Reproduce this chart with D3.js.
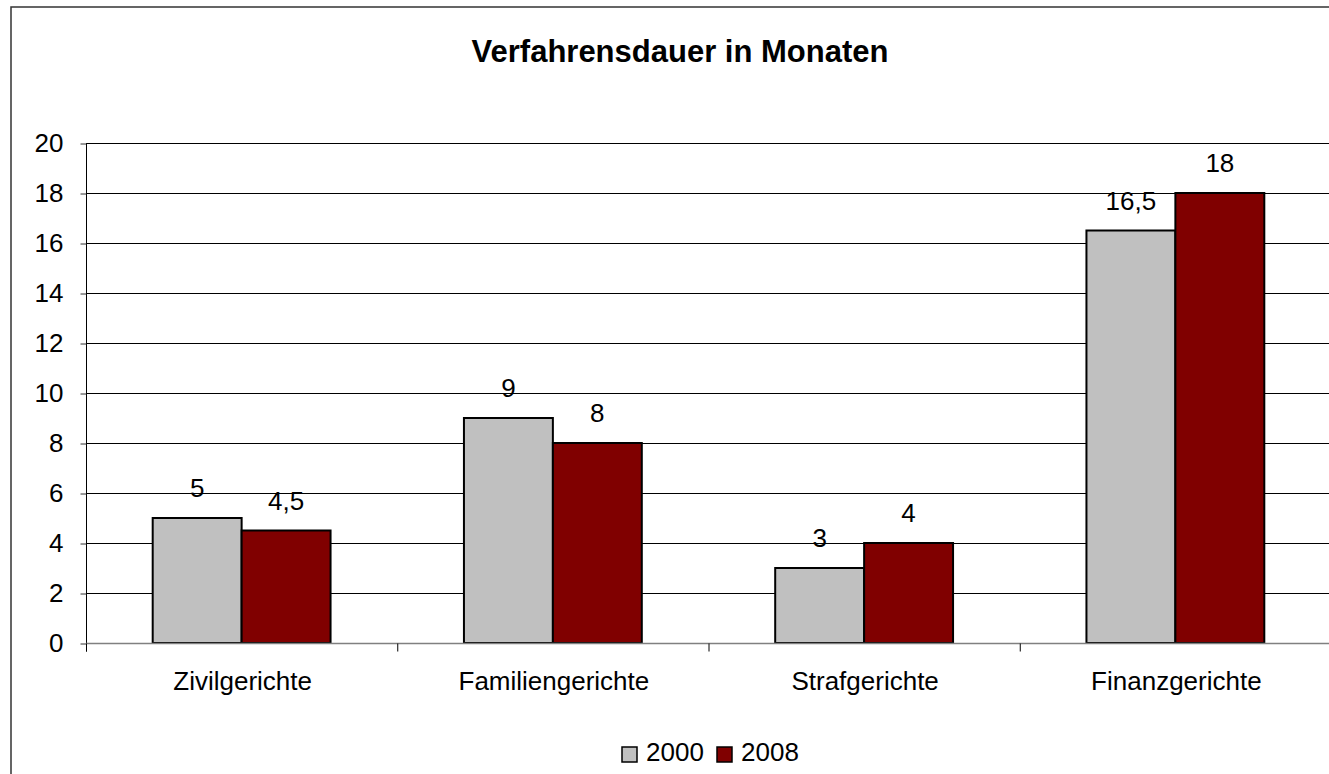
<!DOCTYPE html>
<html>
<head>
<meta charset="utf-8">
<script src="https://cdn.jsdelivr.net/npm/d3@7"></script>
<style>
  body { margin: 0; background: #fff; }
  svg { display: block; font-family: "Liberation Sans", Arial, sans-serif; }
</style>
</head>
<body>
<svg width="1329" height="774"></svg>
<script>
const categories = ['Zivilgerichte', 'Familiengerichte', 'Strafgerichte', 'Finanzgerichte'];
const seriesNames = ['2000', '2008'];
const values2000 = [5, 9, 3, 16.5];
const values2008 = [4.5, 8, 4, 18];
const yTicks = [0, 2, 4, 6, 8, 10, 12, 14, 16, 18, 20];
const colors = ['#c0c0c0', '#800000'];

const svg = d3.select('svg');
const width = +svg.attr('width');
const height = +svg.attr('height');

// chart frame (right/bottom edges run off the picture)
svg.append('rect')
  .attr('x', 11).attr('y', 7)
  .attr('width', width + 20).attr('height', height + 20)
  .attr('fill', '#fff').attr('stroke', '#333').attr('stroke-width', 1.5);

svg.append('text')
  .attr('x', 680).attr('y', 62)
  .attr('text-anchor', 'middle')
  .attr('font-size', 31).attr('font-weight', 'bold')
  .text('Verfahrensdauer in Monaten');

const plot = { left: 86, right: 1331, top: 143, bottom: 643 };

const y = d3.scaleLinear().domain([0, 20]).range([plot.bottom, plot.top]);
const x0 = d3.scaleBand().domain(categories).range([plot.left, plot.right]).padding(0);
const x1 = d3.scaleBand().domain(seriesNames).range([0, x0.bandwidth()])
  .paddingInner(0).paddingOuter(0.75);

// gridlines
svg.append('g').selectAll('line')
  .data(yTicks.filter(t => t > 0))
  .join('line')
  .attr('x1', plot.left).attr('x2', plot.right)
  .attr('y1', d => y(d) + 0.5).attr('y2', d => y(d) + 0.5)
  .attr('stroke', '#000').attr('stroke-width', 1);

// y axis
const yAxis = svg.append('g')
  .attr('transform', `translate(${plot.left + 0.5},0.5)`)
  .call(d3.axisLeft(y).tickValues(yTicks).tickSize(6).tickPadding(17));
yAxis.select('.domain').attr('stroke', '#000').attr('d', `M0,${plot.top}V${plot.bottom + 8}`);
yAxis.selectAll('.tick line').attr('stroke', '#333');
yAxis.selectAll('.tick text')
  .attr('font-size', 26).attr('fill', '#000')
  .attr('font-family', '"Liberation Sans", Arial, sans-serif');

// bars
const rows = categories.map((c, i) => ({ cat: c, vals: [values2000[i], values2008[i]] }));
const groups = svg.append('g').selectAll('g')
  .data(rows).join('g')
  .attr('transform', d => `translate(${x0(d.cat)},0)`);

groups.selectAll('rect')
  .data(d => d.vals.map((v, j) => ({ s: seriesNames[j], v, j })))
  .join('rect')
  .attr('x', d => x1(d.s))
  .attr('y', d => y(d.v))
  .attr('width', x1.bandwidth())
  .attr('height', d => y(0) - y(d.v))
  .attr('fill', d => colors[d.j])
  .attr('stroke', '#000').attr('stroke-width', 2);

groups.selectAll('text.lbl')
  .data(d => d.vals.map((v, j) => ({ s: seriesNames[j], v, j })))
  .join('text')
  .attr('class', 'lbl')
  .attr('x', d => x1(d.s) + x1.bandwidth() / 2)
  .attr('y', d => y(d.v) - 21)
  .attr('text-anchor', 'middle')
  .attr('font-size', 26)
  .text(d => String(d.v).replace('.', ','));

// x axis
const xAxis = svg.append('g')
  .attr('transform', `translate(0,${plot.bottom + 0.5})`);
xAxis.append('line')
  .attr('x1', plot.left).attr('x2', plot.right)
  .attr('stroke', '#808080').attr('stroke-width', 1.5);
xAxis.selectAll('line.tk')
  .data(categories)
  .join('line').attr('class', 'tk')
  .attr('x1', d => x0(d) + 0.5).attr('x2', d => x0(d) + 0.5)
  .attr('y1', 0).attr('y2', 8)
  .attr('stroke', '#000');
xAxis.selectAll('text')
  .data(categories)
  .join('text')
  .attr('x', d => x0(d) + x0.bandwidth() / 2 + 1)
  .attr('y', 46)
  .attr('text-anchor', 'middle')
  .attr('font-size', 26)
  .text(d => d);

// legend
const legend = svg.append('g').attr('transform', 'translate(622,747)');
const items = legend.selectAll('g').data(seriesNames).join('g')
  .attr('transform', (d, i) => `translate(${i * 95},0)`);
items.append('rect')
  .attr('x', 0).attr('y', 0).attr('width', 15).attr('height', 15)
  .attr('fill', (d, i) => colors[i])
  .attr('stroke', '#000').attr('stroke-width', 1.5);
items.append('text')
  .attr('x', 24).attr('y', 14)
  .attr('font-size', 26)
  .text(d => d);
</script>
</body>
</html>
